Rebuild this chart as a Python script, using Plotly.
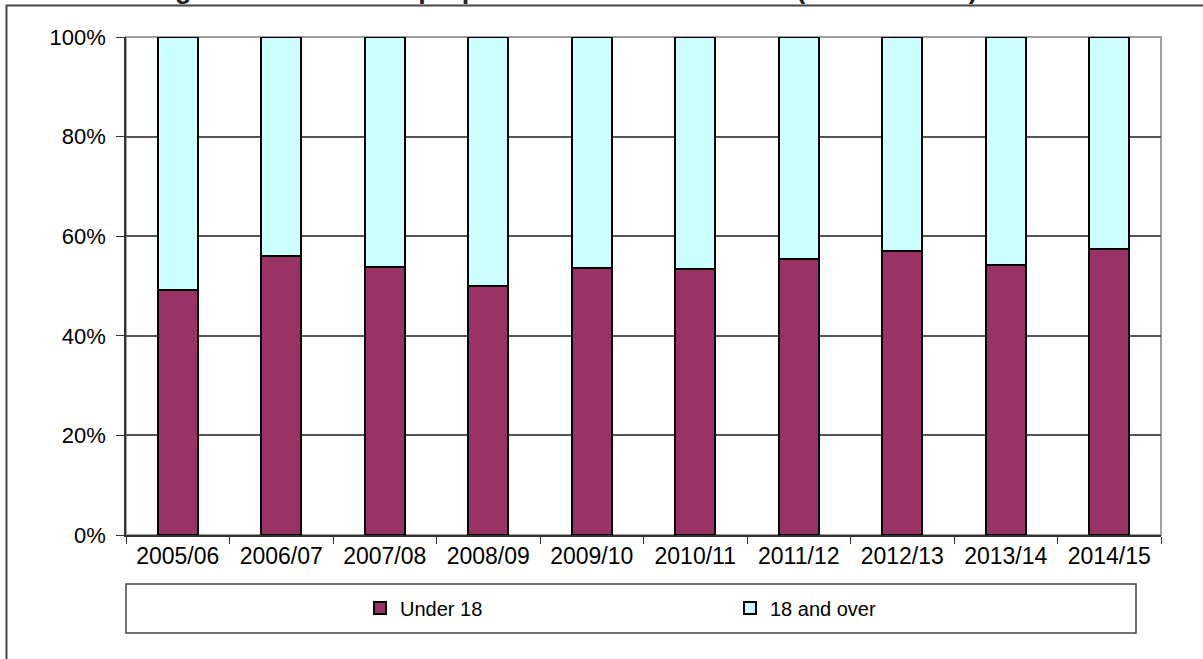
import plotly.graph_objects as go

categories = ["2005/06", "2006/07", "2007/08", "2008/09", "2009/10",
              "2010/11", "2011/12", "2012/13", "2013/14", "2014/15"]
under_18 = [49.1, 56.0, 53.9, 50.1, 53.6, 53.4, 55.5, 57.1, 54.2, 57.4]
over_18 = [round(100 - v, 1) for v in under_18]
y_ticks = [0, 20, 40, 60, 80, 100]
y_tick_text = [f"{v}%" for v in y_ticks]
title_text = "Chart 11 \u2013 Age of trainees as a proportion of total 2005-2014 (Great Britain)"

W, H = 1203, 659
# plot area in page pixels
L, R, T, B = 126, 1161, 37, 535
pw, ph = R - L, B - T

def px(x):
    return (x - L) / pw

def py(y):
    return (B - y) / ph

FONT = "Liberation Sans, Arial, sans-serif"

fig = go.Figure()
fig.add_trace(go.Bar(
    x=categories, y=under_18, name="Under 18",
    marker=dict(color="#993366", line=dict(color="#000000", width=2)),
    width=0.39,
))
fig.add_trace(go.Bar(
    x=categories, y=over_18, name="18 and over",
    marker=dict(color="#CCFFFF", line=dict(color="#000000", width=2)),
    width=0.39,
))

shapes = [
    dict(type="rect", xref="paper", yref="paper", x0=0, x1=1, y0=0, y1=1,
         line=dict(color="#A0A0A0", width=2), layer="below"),
    dict(type="rect", xref="paper", yref="paper",
         x0=px(126), x1=px(1136), y0=py(633), y1=py(584),
         line=dict(color="#444444", width=1.5)),
    dict(type="path", xref="paper", yref="paper",
         path=f"M {px(1220)},{py(5.5)} L {px(6.5)},{py(5.5)} L {px(6.5)},{py(680)}",
         line=dict(color="#444444", width=2)),
]

fig.update_layout(
    width=W, height=H,
    margin=dict(l=L, r=W - R, t=T, b=H - B, pad=0),
    barmode="stack",
    plot_bgcolor="white", paper_bgcolor="white",
    font=dict(family=FONT, size=20, color="#000000"),
    showlegend=True,
    legend=dict(orientation="h", x=px(360), xanchor="left", y=py(608), yanchor="middle",
                bgcolor="rgba(0,0,0,0)", borderwidth=0, entrywidth=325, entrywidthmode="pixels",
                font=dict(family=FONT, size=20, color="#000000"),
                traceorder="normal"),
    shapes=shapes,
    annotations=[dict(text=f"<b>{title_text}</b>", xref="paper", yref="paper",
                      x=px(18), y=py(6), xanchor="left", yanchor="bottom", showarrow=False,
                      font=dict(family=FONT, size=27, color="#222222"))],
)

fig.update_xaxes(
    type="category", tickson="boundaries", ticks="outside", ticklen=7, tickwidth=1,
    tickcolor="#333333", showline=True, linecolor="#333333", linewidth=1.5,
    showgrid=False, tickfont=dict(size=23), range=[-0.5, 9.5],
)
fig.update_yaxes(
    range=[0, 100], tickmode="array", tickvals=y_ticks, ticktext=y_tick_text,
    ticks="outside", ticklen=8, ticklabelstandoff=6,
    tickcolor="#333333", showline=True, linecolor="#333333", linewidth=1.5,
    showgrid=True, gridcolor="#555555", gridwidth=1.5, zeroline=False,
    tickfont=dict(size=22),
)

fig.write_html("out.html", config={"displayModeBar": False},
               post_script="document.body.style.margin='0';document.body.style.overflow='hidden';")
